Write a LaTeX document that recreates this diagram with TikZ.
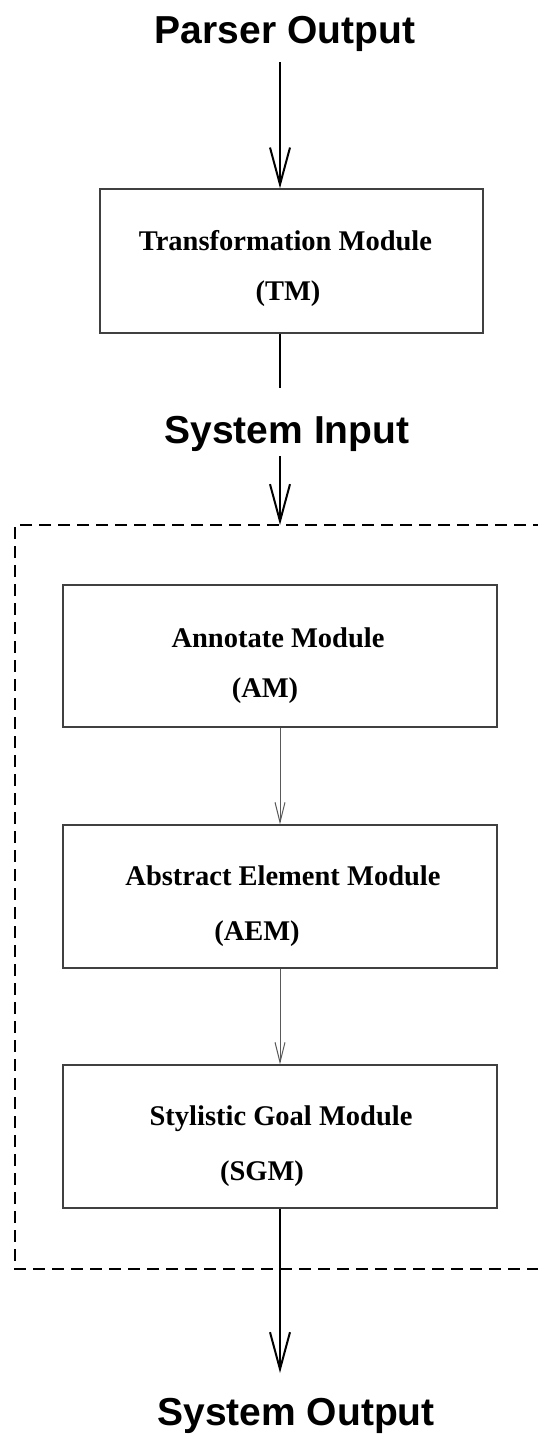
\documentclass[tikz,border=0pt]{standalone}
\usepackage{fontspec}
\setmainfont{Liberation Serif}
\newfontfamily\titlefont{Liberation Sans}
\usetikzlibrary{arrows.meta}
\begin{document}
\begin{tikzpicture}[x=1pt,y=-1pt,
  title/.style={font=\titlefont\bfseries\fontsize{39}{44}\selectfont, anchor=base, inner sep=0pt},
  boxtext/.style={font=\bfseries\fontsize{28.5}{32}\selectfont, anchor=base, inner sep=0pt},
  modbox/.style={draw=black!75, line width=1.3pt, rectangle, inner sep=0pt},
  thickarrow/.style={line width=2pt, -{Straight Barb[length=37pt, width=20pt, line width=2pt]}},
  thickline/.style={line width=2pt},
  thinarrow/.style={draw=black!65, line width=1pt, -{Straight Barb[length=20pt, width=10pt, line width=1pt]}},
  group/.style={dashed, dash pattern=on 12pt off 7pt, line width=2pt}]
\useasboundingbox (0,0) rectangle (538,1438);

% titles
\node[title] (po) at (285,43) {Parser Output};
\node[title] (si) at (287,443) {System Input};
\node[title] (so) at (296,1425) {System Output};

% boxes
\node[modbox, minimum width=383pt, minimum height=144pt] (tm) at (291.5,261) {};
\node[modbox, minimum width=434pt, minimum height=142pt] (am) at (280,656) {};
\node[modbox, minimum width=434pt, minimum height=143pt] (aem) at (280,896.5) {};
\node[modbox, minimum width=434pt, minimum height=143pt] (sgm) at (280,1136.5) {};

% box texts
\node[boxtext] (tm1) at (285.5,250) {Transformation Module};
\node[boxtext] (tm2) at (288,300) {(TM)};
\node[boxtext] (am1) at (278,647) {Annotate Module};
\node[boxtext] (am2) at (265,697) {(AM)};
\node[boxtext] (aem1) at (283,885) {Abstract Element Module};
\node[boxtext] (aem2) at (257,940) {(AEM)};
\node[boxtext] (sgm1) at (281,1125) {Stylistic Goal Module};
\node[boxtext] (sgm2) at (262,1180) {(SGM)};

% dashed group (right side runs off the picture)
\coordinate (gtr) at (545,525);
\coordinate (gtl) at (15,525);
\coordinate (gbl) at (15,1269);
\coordinate (gbr) at (545,1269);
\draw[group] (gtr) -- (gtl) -- (gbl) -- (gbr);

% connectors
\coordinate (a1) at (280,62);
\draw[thickarrow] (a1) -- (a1 |- tm.north);
\coordinate (a2) at (280,388);
\draw[thickline] (a2 |- tm.south) -- (a2);
\coordinate (a3) at (280,456);
\draw[thickarrow] (a3) -- (a3 |- gtl);
\coordinate (a4) at (280,0);
\draw[thinarrow] (a4 |- am.south) -- (a4 |- aem.north);
\draw[thinarrow] (a4 |- aem.south) -- (a4 |- sgm.north);
\coordinate (a5) at (280,1373);
\draw[thickarrow] (a5 |- sgm.south) -- (a5);
\end{tikzpicture}
\end{document}
